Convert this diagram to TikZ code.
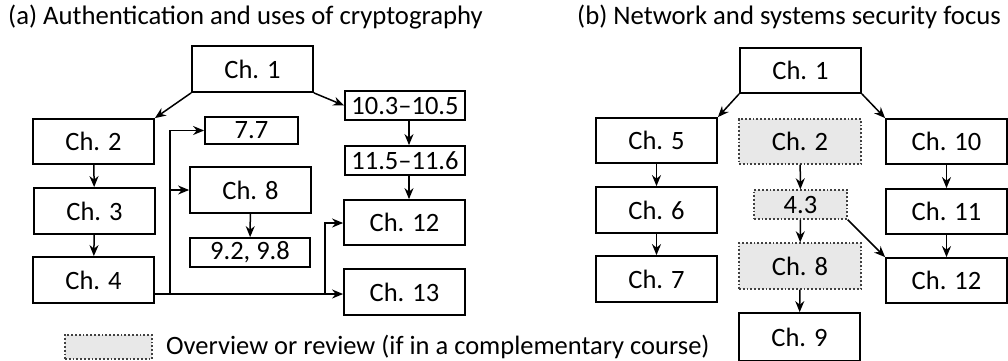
\documentclass[tikz,border=0pt]{standalone}
\usepackage{fontspec}
\setmainfont{Carlito}
\usetikzlibrary{arrows.meta,calc}
\definecolor{revgray}{HTML}{E8E8E8}
\tikzset{
  box/.style={draw=black, line width=1.8pt, inner sep=0pt, font=\fontsize{26.5}{30}\selectfont},
  revbox/.style={box, draw=black!75, dotted, line width=1.4pt, fill=revgray},
  arr/.style={line width=1.5pt, -{Stealth[length=11pt,width=9pt]}},
  title/.style={anchor=base west, inner sep=0pt, font=\fontsize{26.7}{30}\selectfont}
}
\begin{document}
\begin{tikzpicture}[x=1pt,y=-1pt]
\useasboundingbox (0,0) rectangle (1008,360);
% titles
\node[title] (ta) at (8,24) {(a) Authentication and uses of cryptography};
\node[title] (tb) at (577,24) {(b) Network and systems security focus};
% left diagram
\node[box, minimum width=121pt, minimum height=46pt] (a1) at (252.5,69) {Ch. 1};
\node[box, minimum width=120pt, minimum height=29pt] (a103) at (405,105.5) {10.3–10.5};
\node[box, minimum width=121pt, minimum height=45pt] (a2) at (93.5,141.5) {Ch. 2};
\node[box, minimum width=93pt, minimum height=27pt] (a77) at (251.5,130.5) {7.7};
\node[box, minimum width=120pt, minimum height=29pt] (a115) at (405,160.5) {11.5–11.6};
\node[box, minimum width=121pt, minimum height=46pt] (a8) at (250.5,190) {Ch. 8};
\node[box, minimum width=121pt, minimum height=46pt] (a3) at (94.5,211) {Ch. 3};
\node[box, minimum width=121pt, minimum height=45pt] (a12) at (404.5,222.5) {Ch. 12};
\node[box, minimum width=120pt, minimum height=29pt] (a92) at (250,252.5) {9.2, 9.8};
\node[box, minimum width=121pt, minimum height=46pt] (a4) at (93.5,280) {Ch. 4};
\node[box, minimum width=121pt, minimum height=46pt] (a13) at (404.5,292) {Ch. 13};
\coordinate (s4) at ($(a4.east)+(0,14)$);
\coordinate (j1) at (170,294);
\coordinate (j2) at (325,294);
\draw[arr] (a1.south west) -- (a2.north east);
\draw[arr] (a1.south east) -- (a103.west);
\draw[arr] ($(a103.south)+(4,0)$) -- ($(a115.north)+(4,0)$);
\draw[arr] ($(a115.south)+(4,0)$) -- ($(a12.north)+(4.5,0)$);
\draw[arr] (a2) -- (a3);
\draw[arr] (a3) -- (a4);
\draw[arr] (a8) -- (a92);
\draw[arr] (s4) -- (s4 -| a13.west);
\draw[arr] (j1) -- (j1 |- a77.west) -- (a77.west);
\draw[arr] (j1 |- a8.west) -- (a8.west);
\draw[arr] (j2) -- ($(j2 |- a12.west)+(0,0.5)$) -- ($(a12.west)+(0,0.5)$);
% right diagram
\node[box, minimum width=121pt, minimum height=45pt] (b1) at (800.5,70.5) {Ch. 1};
\node[box, minimum width=121pt, minimum height=45pt] (b5) at (656.5,140.5) {Ch. 5};
\node[revbox, minimum width=122pt, minimum height=45pt] (b2) at (800,141.5) {Ch. 2};
\node[box, minimum width=121pt, minimum height=45pt] (b10) at (946.5,141.5) {Ch. 10};
\node[box, minimum width=121pt, minimum height=46pt] (b6) at (656.5,210) {Ch. 6};
\node[revbox, minimum width=93pt, minimum height=29pt] (b43) at (800.5,204.5) {4.3};
\node[box, minimum width=121pt, minimum height=45pt] (b11) at (946.5,211.5) {Ch. 11};
\node[box, minimum width=121pt, minimum height=46pt] (b7) at (656.5,279) {Ch. 7};
\node[revbox, minimum width=122pt, minimum height=46pt] (b8) at (800,266) {Ch. 8};
\node[box, minimum width=121pt, minimum height=45pt] (b12) at (946.5,280.5) {Ch. 12};
\node[box, minimum width=121pt, minimum height=48pt] (b9) at (799.5,337) {Ch. 9};
\draw[arr] (b1.south west) -- (b5.north east);
\draw[arr] (b1.south east) -- (b10.north west);
\draw[arr] (b5) -- (b6);
\draw[arr] (b6) -- (b7);
\draw[arr] (b10) -- (b11);
\draw[arr] (b11) -- (b12);
\draw[arr] (b2) -- (b43);
\draw[arr] (b43) -- (b8);
\draw[arr] (b8) -- (b9);
\draw[arr] (b43.south east) -- (b12.north west);
% legend
\node[revbox, minimum width=87pt, minimum height=24pt] (lg) at (108.5,347) {};
\node[anchor=base west, inner sep=0pt, font=\fontsize{26.5}{30}\selectfont] (lt) at (166,354) {Overview or review (if in a complementary course)};
\end{tikzpicture}
\end{document}
